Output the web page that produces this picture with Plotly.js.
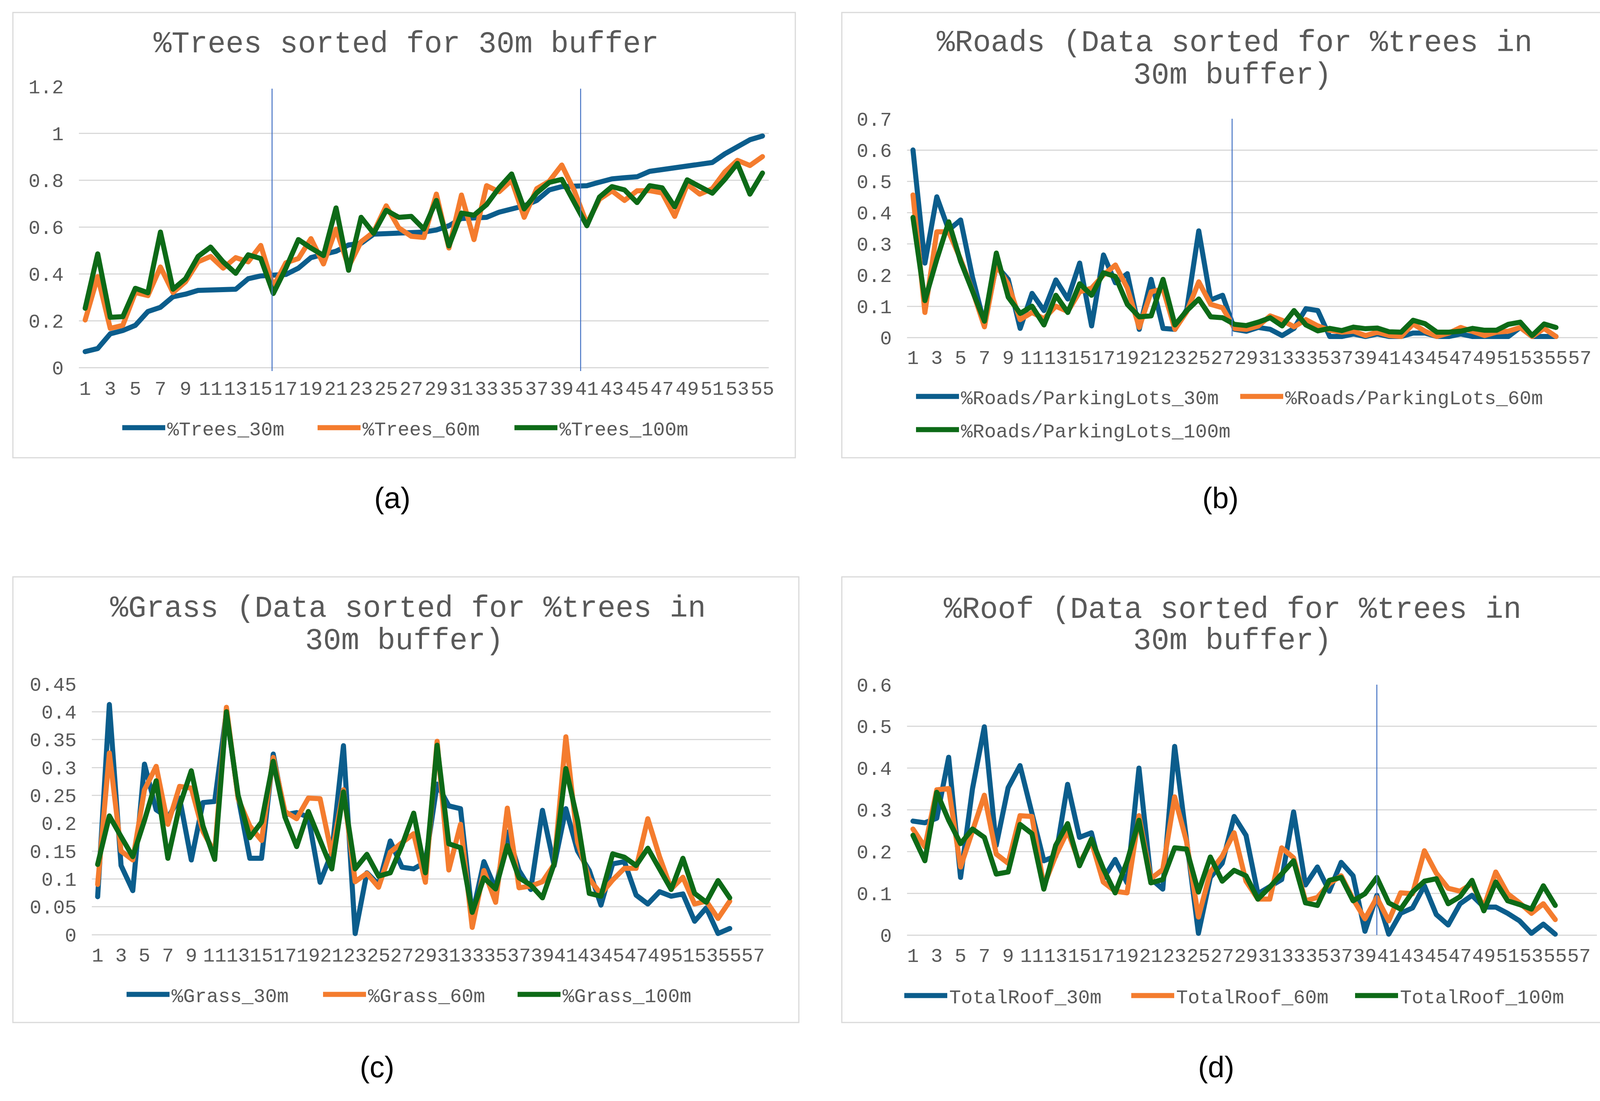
<!DOCTYPE html>
<html><head><meta charset="utf-8">
<script src="https://cdn.plot.ly/plotly-3.0.1.min.js"></script>
<style>
html,body{margin:0;padding:0;background:#fff;overflow:hidden}
#chart{width:4198px;height:2819px}
#chart path.js-line{stroke-linejoin:round !important;stroke-linecap:round !important}
#chart g.legendlines path.js-line{stroke-width:13px !important;stroke-linecap:butt !important}
</style>
</head><body><div id="chart"></div>
<script>
// ---------------- data ----------------
const categories = [1,2,3,4,5,6,7,8,9,10,11,12,13,14,15,16,17,18,19,20,21,22,23,24,25,26,27,28,29,30,31,32,33,34,35,36,37,38,39,40,41,42,43,44,45,46,47,48,49,50,51,52,53,54,55];
const ticksA = [1,3,5,7,9,11,13,15,17,19,21,23,25,27,29,31,33,35,37,39,41,43,45,47,49,51,53,55];
const ticksB = [1,3,5,7,9,11,13,15,17,19,21,23,25,27,29,31,33,35,37,39,41,43,45,47,49,51,53,55,57];

const yTicksA = [0,0.2,0.4,0.6,0.8,1,1.2];
const yTicksB = [0,0.1,0.2,0.3,0.4,0.5,0.6,0.7];
const yTicksC = [0,0.05,0.1,0.15,0.2,0.25,0.3,0.35,0.4,0.45];
const yTicksD = [0,0.1,0.2,0.3,0.4,0.5,0.6];

const trees30 = [0.068,0.081,0.144,0.158,0.18,0.239,0.257,0.302,0.313,0.329,0.331,0.331,0.334,0.379,0.391,0.394,0.397,0.424,0.469,0.483,0.496,0.523,0.53,0.569,0.571,0.573,0.578,0.578,0.587,0.605,0.636,0.641,0.641,0.663,0.677,0.69,0.713,0.758,0.772,0.773,0.776,0.791,0.805,0.81,0.814,0.837,0.844,0.853,0.86,0.864,0.875,0.912,0.945,0.972,0.988];
const trees60 = [0.203,0.388,0.167,0.18,0.32,0.307,0.429,0.32,0.366,0.451,0.474,0.424,0.469,0.451,0.521,0.345,0.447,0.465,0.55,0.442,0.591,0.43,0.537,0.578,0.69,0.596,0.56,0.555,0.74,0.51,0.736,0.546,0.776,0.75,0.799,0.641,0.763,0.795,0.864,0.754,0.614,0.718,0.754,0.713,0.754,0.755,0.745,0.645,0.781,0.74,0.763,0.835,0.884,0.862,0.9];
const trees100 = [0.253,0.485,0.214,0.217,0.338,0.319,0.578,0.334,0.379,0.474,0.514,0.451,0.402,0.481,0.465,0.316,0.424,0.546,0.51,0.478,0.681,0.415,0.641,0.573,0.671,0.641,0.645,0.591,0.713,0.519,0.659,0.65,0.695,0.767,0.826,0.677,0.745,0.79,0.803,0.704,0.605,0.727,0.772,0.758,0.704,0.776,0.767,0.686,0.801,0.772,0.744,0.803,0.871,0.74,0.83];

const roads30 = [0.6,0.238,0.45,0.344,0.376,0.192,0.043,0.23,0.186,0.029,0.141,0.086,0.184,0.123,0.238,0.037,0.264,0.175,0.204,0.026,0.186,0.029,0.026,0.09,0.341,0.12,0.135,0.026,0.02,0.032,0.026,0.006,0.029,0.092,0.086,0.003,0.003,0.011,0.003,0.011,0.003,0.003,0.014,0.014,0.003,0.003,0.011,0.003,0.003,0.003,0.003,0.032,0.003,0.003,0.003];
const roads60 = [0.456,0.08,0.338,0.338,0.25,0.15,0.034,0.232,0.17,0.057,0.08,0.06,0.1,0.083,0.146,0.158,0.2,0.232,0.158,0.032,0.146,0.155,0.026,0.083,0.178,0.106,0.095,0.029,0.026,0.037,0.069,0.055,0.034,0.057,0.037,0.023,0.017,0.02,0.006,0.017,0.006,0.003,0.043,0.02,0.003,0.014,0.032,0.02,0.006,0.017,0.02,0.032,0.003,0.029,0.003];
const roads100 = [0.384,0.118,0.25,0.37,0.244,0.146,0.052,0.27,0.129,0.077,0.1,0.04,0.135,0.08,0.172,0.135,0.207,0.195,0.106,0.066,0.069,0.186,0.04,0.086,0.123,0.066,0.063,0.042,0.038,0.049,0.063,0.037,0.086,0.04,0.021,0.029,0.022,0.033,0.028,0.03,0.018,0.017,0.055,0.044,0.017,0.017,0.02,0.029,0.023,0.023,0.042,0.049,0.006,0.043,0.032];

const grass30 = [0.068,0.413,0.124,0.079,0.306,0.224,0.21,0.245,0.134,0.237,0.239,0.4,0.247,0.137,0.137,0.324,0.215,0.219,0.211,0.094,0.147,0.339,0.002,0.111,0.09,0.168,0.121,0.118,0.13,0.27,0.231,0.226,0.035,0.131,0.082,0.184,0.115,0.081,0.223,0.124,0.226,0.15,0.115,0.053,0.127,0.131,0.071,0.055,0.077,0.069,0.073,0.024,0.048,0.002,0.011];
const grass60 = [0.09,0.326,0.15,0.134,0.26,0.302,0.198,0.266,0.263,0.185,0.147,0.408,0.244,0.195,0.169,0.318,0.221,0.208,0.245,0.244,0.144,0.26,0.095,0.11,0.085,0.148,0.165,0.181,0.094,0.347,0.116,0.198,0.013,0.115,0.058,0.227,0.084,0.087,0.095,0.126,0.355,0.166,0.1,0.073,0.098,0.119,0.119,0.208,0.14,0.082,0.103,0.055,0.06,0.029,0.06];
const grass100 = [0.126,0.213,0.176,0.14,0.205,0.276,0.137,0.231,0.294,0.195,0.135,0.4,0.25,0.174,0.202,0.311,0.211,0.158,0.221,0.169,0.118,0.256,0.118,0.144,0.105,0.111,0.16,0.218,0.111,0.34,0.163,0.156,0.04,0.102,0.082,0.16,0.102,0.089,0.066,0.127,0.298,0.205,0.074,0.069,0.145,0.139,0.124,0.155,0.118,0.081,0.137,0.074,0.058,0.097,0.066];

const roof30 = [0.273,0.269,0.28,0.426,0.138,0.35,0.499,0.215,0.353,0.406,0.292,0.178,0.189,0.361,0.234,0.245,0.135,0.181,0.125,0.4,0.135,0.11,0.452,0.23,0.004,0.138,0.172,0.284,0.239,0.099,0.116,0.133,0.295,0.12,0.163,0.105,0.174,0.142,0.009,0.095,0.002,0.052,0.065,0.118,0.049,0.024,0.075,0.095,0.067,0.067,0.052,0.034,0.004,0.026,0.002];
const roof60 = [0.254,0.211,0.348,0.351,0.163,0.249,0.335,0.194,0.172,0.286,0.284,0.118,0.19,0.249,0.172,0.224,0.127,0.105,0.101,0.286,0.135,0.157,0.331,0.224,0.043,0.151,0.189,0.245,0.129,0.086,0.086,0.209,0.185,0.082,0.09,0.123,0.142,0.086,0.039,0.09,0.034,0.101,0.099,0.202,0.148,0.112,0.105,0.123,0.067,0.151,0.099,0.077,0.052,0.075,0.037];
const roof100 = [0.239,0.178,0.342,0.275,0.219,0.254,0.234,0.146,0.151,0.265,0.243,0.11,0.215,0.267,0.166,0.23,0.159,0.101,0.176,0.275,0.125,0.133,0.209,0.206,0.103,0.187,0.129,0.155,0.142,0.086,0.115,0.148,0.178,0.077,0.071,0.131,0.138,0.082,0.099,0.138,0.077,0.062,0.103,0.129,0.135,0.075,0.092,0.131,0.058,0.127,0.082,0.073,0.062,0.118,0.071];

const seriesNamesA = ['%Trees_30m','%Trees_60m','%Trees_100m'];
const seriesNamesB = ['%Roads/ParkingLots_30m','%Roads/ParkingLots_60m','%Roads/ParkingLots_100m'];
const seriesNamesC = ['%Grass_30m','%Grass_60m','%Grass_100m'];
const seriesNamesD = ['TotalRoof_30m','TotalRoof_60m','TotalRoof_100m'];

const markerLinesA = [15.9, 40.5];
const markerLinesB = [27.8];
const markerLinesD = [40];

// ---------------- style ----------------
const W = 4198, H = 2819;
const px = v => v / W;
const py = v => 1 - v / H;
const MONO = "'Liberation Mono', 'Courier New', monospace";
const SANS = "'Liberation Sans', Arial, sans-serif";
const GRAY = '#595959';
const COLORS = ['#0B5D8C', '#F47C2E', '#0D6A17'];
const LW = 13;

const panels = [
  {id:'', x0:202, x1:1968, xr:[0.5,55.5], ticks:ticksA, zero:941, topPx:221, ymax:1.2, yt:yTicksA, ext:0.03,
   series:[trees30,trees60,trees100], names:seriesNamesA, box:[33,32,2036,1172], lab:['(a)',1004,1274],
   titles:[['%Trees sorted for 30m buffer',1040,113]],
   legends:[[316,1095],[816,1095],[1320,1095]], vlines:markerLinesA, vl:[-0.015,1.19]},
  {id:'2', x0:2322, x1:4090, xr:[0.5,58.5], ticks:ticksB, zero:864, topPx:304, ymax:0.7, yt:yTicksB, ext:0.02,
   series:[roads30,roads60,roads100], names:seriesNamesB, box:[2155,32,4165,1172], lab:['(b)',3124,1274],
   titles:[['%Roads (Data sorted for %trees in',3160,110],['30m buffer)',3155,193]],
   legends:[[2348,1015],[3178,1015],[2348,1100]], vlines:markerLinesB, vl:[0.004,0.703]},
  {id:'3', x0:235, x1:1973, xr:[0.5,58.5], ticks:ticksB, zero:2393, topPx:1751, ymax:0.45, yt:yTicksC, ext:0.012,
   series:[grass30,grass60,grass100], names:seriesNamesC, box:[33,1477,2045,2618], lab:['(c)',965,2731],
   titles:[['%Grass (Data sorted for %trees in',1044,1558],['30m buffer)',1035,1641]],
   legends:[[327,2546],[830,2546],[1328,2546]], vlines:[], vl:[0,0]},
  {id:'4', x0:2322, x1:4088, xr:[0.5,58.5], ticks:ticksB, zero:2394, topPx:1753, ymax:0.6, yt:yTicksD, ext:0.016,
   series:[roof30,roof60,roof100], names:seriesNamesD, box:[2155,1477,4165,2618], lab:['(d)',3113,2731],
   titles:[['%Roof (Data sorted for %trees in',3155,1561],['30m buffer)',3155,1641]],
   legends:[[2318,2549],[2899,2549],[3472,2549]], vlines:markerLinesD, vl:[0,0.609]}
];

const data = [];
const layout = {
  width: W, height: H, autosize: false,
  margin: {l:0, r:0, t:0, b:0, pad:0},
  paper_bgcolor: '#fff', plot_bgcolor: 'rgba(0,0,0,0)',
  showlegend: true, hovermode: false,
  shapes: [], annotations: []
};

let legIdx = 0;
panels.forEach(p => {
  const perUnit = (p.zero - p.topPx) / p.ymax;
  const bottomPx = p.zero + p.ext * perUnit;
  const xa = 'xaxis' + p.id, ya = 'yaxis' + p.id;
  const xr = 'x' + p.id, yr = 'y' + p.id;
  layout[xa] = {
    domain: [px(p.x0), px(p.x1)], range: p.xr, anchor: yr, type: 'linear',
    tickmode: 'array', tickvals: p.ticks, ticktext: p.ticks.map(String), tickangle: 0,
    showgrid: false, zeroline: false, showline: false, ticks: '',
    tickfont: {family: MONO, size: 50, color: GRAY}, ticklabelstandoff: 1, fixedrange: true
  };
  layout[ya] = {
    domain: [py(bottomPx), py(p.topPx)], range: [-p.ext, p.ymax], anchor: xr,
    tickmode: 'array', tickvals: p.yt, ticktext: p.yt.map(String),
    showgrid: true, gridcolor: '#D9D9D9', gridwidth: 3, zeroline: false, showline: false, ticks: '',
    tickfont: {family: MONO, size: 50, color: GRAY}, ticklabelstandoff: 38, fixedrange: true
  };
  p.series.forEach((s, i) => {
    legIdx++;
    const lname = legIdx === 1 ? 'legend' : 'legend' + legIdx;
    data.push({
      type: 'scatter', mode: 'lines', x: categories, y: s, name: p.names[i],
      xaxis: xr, yaxis: yr, legend: lname, hoverinfo: 'skip',
      line: {color: COLORS[i], width: LW}
    });
    const lg = p.legends[i];
    layout[lname] = {
      x: px(lg[0] - 8), y: py(lg[1]), xanchor: 'left', yanchor: 'middle',
      orientation: 'h', bgcolor: 'rgba(0,0,0,0)', borderwidth: 0,
      font: {family: MONO, size: 50, color: GRAY}, itemwidth: 110,
      itemclick: false, itemdoubleclick: false
    };
  });
  p.vlines.forEach(v => {
    layout.shapes.push({type:'line', xref: xr, yref: yr, x0: v, x1: v, y0: p.vl[0], y1: p.vl[1],
      line: {color: '#4472C4', width: 2.5}});
  });
  layout.shapes.push({type:'rect', xref:'paper', yref:'paper',
    x0: px(p.box[0]), x1: px(p.box[2]), y0: py(p.box[3]), y1: py(p.box[1]),
    line: {color: '#D9D9D9', width: 3}, fillcolor: 'rgba(0,0,0,0)', layer: 'below'});
  p.titles.forEach(t => {
    layout.annotations.push({xref:'paper', yref:'paper', x: px(t[1]), y: py(t[2]),
      xanchor:'center', yanchor:'middle', showarrow:false, text: t[0],
      font: {family: MONO, size: 77, color: GRAY}});
  });
  layout.annotations.push({xref:'paper', yref:'paper', x: px(p.lab[1]), y: py(p.lab[2]),
    xanchor:'center', yanchor:'middle', showarrow:false, text: p.lab[0],
    font: {family: SANS, size: 76, color: '#000'}});
});

Plotly.newPlot('chart', data, layout, {staticPlot: true, displayModeBar: false});
</script>
</body></html>
